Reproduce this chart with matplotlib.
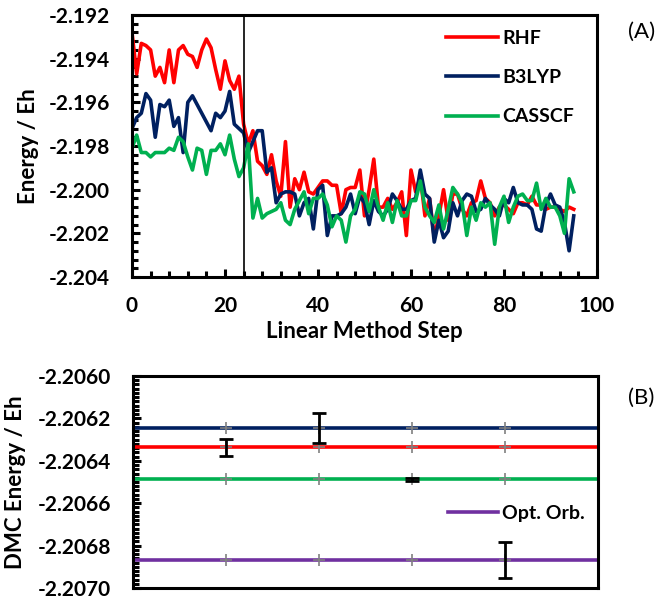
import matplotlib
matplotlib.use('Agg')
import matplotlib.pyplot as plt
from matplotlib.ticker import MultipleLocator, FormatStrFormatter
from matplotlib.lines import Line2D

plt.rcParams['font.family'] = ['Lato', 'DejaVu Sans']
plt.rcParams['font.weight'] = 'bold'
plt.rcParams['axes.labelweight'] = 'bold'
plt.rcParams['axes.unicode_minus'] = False

# --- panel (A): VMC energy along the linear method optimisation ---
steps = list(range(96))
rhf = [-2.1928, -2.1947, -2.1933, -2.1934, -2.1936, -2.1948, -2.1944, -2.1951, -2.1936, -2.1951,
       -2.1936, -2.1934, -2.1938, -2.1939, -2.1944, -2.1936, -2.1931, -2.1935, -2.1945, -2.1954,
       -2.1941, -2.1950, -2.1954, -2.1948, -2.1970, -2.1979, -2.1973, -2.1987, -2.1989, -2.1993,
       -2.1984, -2.1996, -2.2003, -2.1978, -2.2008, -2.1995, -2.2000, -2.1992, -2.2001, -2.2002,
       -2.1999, -2.1996, -2.1996, -2.1998, -2.1998, -2.2011, -2.2000, -2.1999, -2.1999, -2.1991,
       -2.2012, -2.2000, -2.1986, -2.2008, -2.2008, -2.2004, -2.2009, -2.2006, -2.2001, -2.2021,
       -2.1991, -2.2001, -2.1994, -2.2012, -2.2004, -2.2022, -2.2012, -2.2000, -2.2014, -2.2002,
       -2.2002, -2.2009, -2.2012, -2.2006, -2.2005, -2.1996, -2.2004, -2.2006, -2.2012, -2.2008,
       -2.2007, -2.2009, -2.2011, -2.2006, -2.2006, -2.2007, -2.2003, -2.2007, -2.2007, -2.2009,
       -2.2008, -2.2008, -2.2009, -2.2010, -2.2008, -2.2009]
b3lyp = [-2.1972, -2.1967, -2.1965, -2.1956, -2.1959, -2.1976, -2.1961, -2.1962, -2.1959, -2.1971,
         -2.1967, -2.1983, -2.1960, -2.1957, -2.1961, -2.1965, -2.1969, -2.1973, -2.1965, -2.1967,
         -2.1964, -2.1955, -2.1970, -2.1972, -2.1974, -2.1983, -2.1978, -2.1973, -2.1973, -2.1992,
         -2.1990, -2.2006, -2.2002, -2.2001, -2.2001, -2.2002, -2.2012, -2.2006, -2.2004, -2.2018,
         -2.2000, -2.1998, -2.2021, -2.2012, -2.2012, -2.2011, -2.2008, -2.2002, -2.2011, -2.2003,
         -2.2006, -2.2016, -2.2005, -2.2010, -2.2012, -2.2009, -2.2002, -2.2005, -2.2009, -2.2009,
         -2.2005, -2.2004, -2.1991, -2.2002, -2.2004, -2.2024, -2.2014, -2.2022, -2.2019, -2.2006,
         -2.2012, -2.2005, -2.2002, -2.2003, -2.2010, -2.2009, -2.2004, -2.2007, -2.2009, -2.2012,
         -2.2004, -2.2006, -2.1999, -2.2006, -2.2007, -2.2007, -2.2009, -2.2018, -2.2019, -2.2007,
         -2.2002, -2.2007, -2.2008, -2.2015, -2.2028, -2.2012]
casscf = [-2.1981, -2.1975, -2.1983, -2.1983, -2.1985, -2.1983, -2.1983, -2.1983, -2.1981, -2.1982,
          -2.1976, -2.1978, -2.1985, -2.1991, -2.1981, -2.1982, -2.1993, -2.1982, -2.1982, -2.1979,
          -2.1984, -2.1975, -2.1986, -2.1994, -2.1990, -2.1979, -2.2013, -2.2004, -2.2013, -2.2011,
          -2.2010, -2.2009, -2.2006, -2.2014, -2.2016, -2.2009, -2.2005, -2.2001, -2.2011, -2.2004,
          -2.2004, -2.2002, -2.2007, -2.2017, -2.2012, -2.2014, -2.2024, -2.2012, -2.2009, -2.2001,
          -2.2002, -2.2010, -2.2000, -2.2008, -2.2014, -2.2006, -2.2015, -2.2005, -2.2012, -2.2012,
          -2.2005, -2.2005, -2.1996, -2.2008, -2.2012, -2.2015, -2.2007, -2.2018, -2.2009, -2.1999,
          -2.2002, -2.2006, -2.2021, -2.2008, -2.2014, -2.2006, -2.2008, -2.2006, -2.2025, -2.2008,
          -2.2003, -2.2015, -2.2008, -2.2003, -2.2002, -2.2005, -2.2005, -2.1997, -2.2009, -2.2004,
          -2.2008, -2.2008, -2.2012, -2.2020, -2.1995, -2.2001]
switch_step = 24

# --- panel (B): DMC energies ---
dmc_x = [0, 1, 2, 3, 4, 5]
dmc_levels = {'RHF': -2.206333, 'B3LYP': -2.206246, 'CASSCF': -2.206488, 'Opt. Orb.': -2.206868}
err_x = [1, 2, 3, 4]
err_y = [-2.206337, -2.206245, -2.206488, -2.206869]
err_e = [0.000041, 0.000070, 0.000005, 0.000086]

colors = {'RHF': '#FF0000', 'B3LYP': '#002060', 'CASSCF': '#00B050', 'Opt. Orb.': '#7030A0'}

fig = plt.figure(figsize=(6.61, 6.01), dpi=100)

ax1 = fig.add_axes([132/661, 1 - 277/601, 465/661, 262/601])
for name, ys in [('RHF', rhf), ('B3LYP', b3lyp), ('CASSCF', casscf)]:
    ax1.plot(steps, ys, color=colors[name], lw=2.6, solid_joinstyle='round')
ax1.axvline(switch_step, color='black', lw=1.2)
ax1.set_xlim(0, 100)
ax1.set_ylim(-2.204, -2.192)
ax1.xaxis.set_major_locator(MultipleLocator(20))
ax1.xaxis.set_minor_locator(MultipleLocator(4))
ax1.yaxis.set_major_locator(MultipleLocator(0.002))
ax1.yaxis.set_minor_locator(MultipleLocator(0.0004))
ax1.yaxis.set_major_formatter(FormatStrFormatter('%.3f'))
ax1.set_xlabel('Linear Method Step', fontsize=16, labelpad=3)
ax1.set_ylabel('Energy / Eh', fontsize=16)
ax1.yaxis.set_label_coords(-0.20, 0.5)

handles = [Line2D([], [], color=colors[n], lw=2.6) for n in ['RHF', 'B3LYP', 'CASSCF']]
fig.legend(handles, ['RHF', 'B3LYP', 'CASSCF'], loc='upper left',
           bbox_to_anchor=(438/661, 1 - 22/601), frameon=False,
           prop={'size': 14, 'weight': 'bold'}, handlelength=2.7,
           handletextpad=0.2, labelspacing=1.15, borderaxespad=0)

ax2 = fig.add_axes([133/661, 1 - 588/601, 465/661, 212/601])
for name in ['RHF', 'B3LYP', 'CASSCF', 'Opt. Orb.']:
    ax2.plot(dmc_x, [dmc_levels[name]] * len(dmc_x), color=colors[name], lw=2.6,
             zorder=2)
    ax2.plot(err_x, [dmc_levels[name]] * len(err_x), ls='none', marker='+',
             color='#808080', ms=9, mew=1.2, zorder=3)
ax2.errorbar(err_x, err_y, yerr=err_e, fmt='none', ecolor='black', elinewidth=2,
             capsize=5, capthick=2, zorder=4)
ax2.set_xlim(0, 5)
ax2.set_ylim(-2.2070, -2.2060)
ax2.set_xticks([])
ax2.yaxis.set_major_locator(MultipleLocator(0.0002))
ax2.yaxis.set_minor_locator(MultipleLocator(0.00002))
ax2.yaxis.set_major_formatter(FormatStrFormatter('%.4f'))
ax2.set_ylabel('DMC Energy / Eh', fontsize=16)
ax2.yaxis.set_label_coords(-0.23, 0.5)
ax2.legend([Line2D([], [], color=colors['Opt. Orb.'], lw=2.6)], ['Opt. Orb.'],
           loc='center left', bbox_to_anchor=(0.66, 0.35), frameon=False,
           prop={'size': 14, 'weight': 'bold'}, handlelength=2.6,
           handletextpad=0.2, borderaxespad=0)

for ax in (ax1, ax2):
    for sp in ax.spines.values():
        sp.set_linewidth(2.2)
    ax.tick_params(which='both', direction='in', width=2.2, labelsize=15)
    ax.tick_params(which='major', length=6)
    ax.tick_params(which='minor', length=4)
ax1.tick_params(axis='x', pad=14)
ax1.tick_params(axis='y', pad=16)
ax2.tick_params(axis='y', pad=16)

fig.text(628/661, 1 - 32/601, '(A)', fontsize=16, fontweight='normal', va='center', ha='left')
fig.text(628/661, 1 - 398/601, '(B)', fontsize=16, fontweight='normal', va='center', ha='left')

fig.savefig('out.png', dpi=100)
